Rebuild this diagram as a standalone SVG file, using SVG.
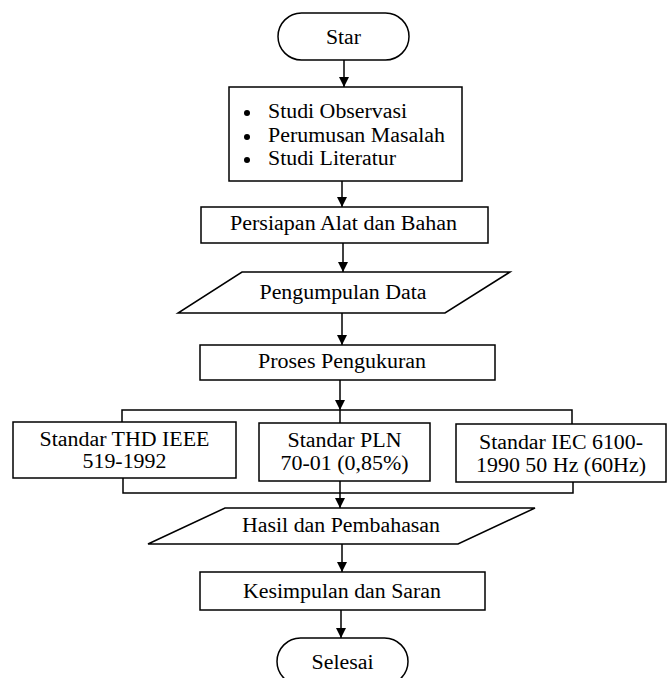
<svg xmlns="http://www.w3.org/2000/svg" width="668" height="678" viewBox="0 0 668 678">
<style>
.s{fill:#fff;stroke:#000;stroke-width:1.5}
.t{font-family:"Liberation Serif","Times New Roman",serif;font-size:20px;fill:#000;text-anchor:middle}
.tl{font-family:"Liberation Serif","Times New Roman",serif;font-size:20px;fill:#000}
.c{fill:none;stroke:#000;stroke-width:1.5}
</style>
<defs>
<marker id="ah" markerUnits="userSpaceOnUse" markerWidth="10" markerHeight="10" viewBox="0 0 10 10" refX="10" refY="5" orient="auto">
<path d="M0,0 L10,5 L0,10 z" fill="#000"/>
</marker>
</defs>
<rect width="668" height="678" fill="#fff"/>
<g id="connectors">
<line class="c" x1="344" y1="60" x2="344" y2="87" marker-end="url(#ah)"/>
<line class="c" x1="342" y1="181" x2="342" y2="207" marker-end="url(#ah)"/>
<line class="c" x1="343" y1="243" x2="343" y2="272" marker-end="url(#ah)"/>
<line class="c" x1="342" y1="313" x2="342" y2="345" marker-end="url(#ah)"/>
<line class="c" x1="340" y1="380" x2="340" y2="410" marker-end="url(#ah)"/>
<polyline class="c" points="122,423 122,410 572,410 572,424"/>
<line class="c" x1="340" y1="410" x2="340" y2="423"/>
<polyline class="c" points="123,478 123,493 573,493 573,482"/>
<line class="c" x1="340" y1="481" x2="340" y2="508" marker-end="url(#ah)"/>
<line class="c" x1="342" y1="544" x2="342" y2="572" marker-end="url(#ah)"/>
<line class="c" x1="341" y1="610" x2="341" y2="638" marker-end="url(#ah)"/>
</g>
<g id="star">
<rect class="s" x="278" y="13" width="131" height="47" rx="23.5"/>
<text class="t" x="343.5" y="44" textLength="35" lengthAdjust="spacingAndGlyphs">Star</text>
</g>
<g id="studi">
<rect class="s" x="229" y="87" width="233" height="94"/>
<circle cx="247" cy="113" r="3" fill="#000"/>
<circle cx="247" cy="137" r="3" fill="#000"/>
<circle cx="247" cy="160" r="3" fill="#000"/>
<text class="tl" x="268" y="118" textLength="139" lengthAdjust="spacingAndGlyphs">Studi Observasi</text>
<text class="tl" x="268" y="141.5" textLength="177" lengthAdjust="spacingAndGlyphs">Perumusan Masalah</text>
<text class="tl" x="268" y="165" textLength="128" lengthAdjust="spacingAndGlyphs">Studi Literatur</text>
</g>
<g id="persiapan">
<rect class="s" x="201" y="207" width="287" height="36"/>
<text class="t" x="343.5" y="230" textLength="227" lengthAdjust="spacingAndGlyphs">Persiapan Alat dan Bahan</text>
</g>
<g id="pengumpulan">
<polygon class="s" points="242,272 510,272 445,313 178,313"/>
<text class="t" x="343" y="299" textLength="167" lengthAdjust="spacingAndGlyphs">Pengumpulan Data</text>
</g>
<g id="proses">
<rect class="s" x="200" y="345" width="295" height="35"/>
<text class="t" x="342" y="368" textLength="168" lengthAdjust="spacingAndGlyphs">Proses Pengukuran</text>
</g>
<g id="ieee">
<rect class="s" x="13" y="422" width="223" height="56"/>
<text class="t" x="124.5" y="445.5" textLength="170" lengthAdjust="spacingAndGlyphs">Standar THD IEEE</text>
<text class="t" x="124.5" y="468" textLength="84" lengthAdjust="spacingAndGlyphs">519-1992</text>
</g>
<g id="pln">
<rect class="s" x="259" y="423" width="171" height="58"/>
<text class="t" x="344.5" y="447" textLength="114" lengthAdjust="spacingAndGlyphs">Standar PLN</text>
<text class="t" x="344.5" y="469.5" textLength="128" lengthAdjust="spacingAndGlyphs">70-01 (0,85%)</text>
</g>
<g id="iec">
<rect class="s" x="456" y="424" width="210" height="58"/>
<text class="t" x="561" y="449" textLength="164" lengthAdjust="spacingAndGlyphs">Standar IEC 6100-</text>
<text class="t" x="561" y="471.5" textLength="170" lengthAdjust="spacingAndGlyphs">1990 50 Hz (60Hz)</text>
</g>
<g id="hasil">
<polygon class="s" points="225,508 535,508 458,544 148,544"/>
<text class="t" x="341" y="532" textLength="198" lengthAdjust="spacingAndGlyphs">Hasil dan Pembahasan</text>
</g>
<g id="kesimpulan">
<rect class="s" x="200" y="572" width="285" height="38"/>
<text class="t" x="342" y="598" textLength="198" lengthAdjust="spacingAndGlyphs">Kesimpulan dan Saran</text>
</g>
<g id="selesai">
<rect class="s" x="277" y="638" width="131" height="47" rx="23.5"/>
<text class="t" x="342.5" y="669" textLength="62" lengthAdjust="spacingAndGlyphs">Selesai</text>
</g>
</svg>
